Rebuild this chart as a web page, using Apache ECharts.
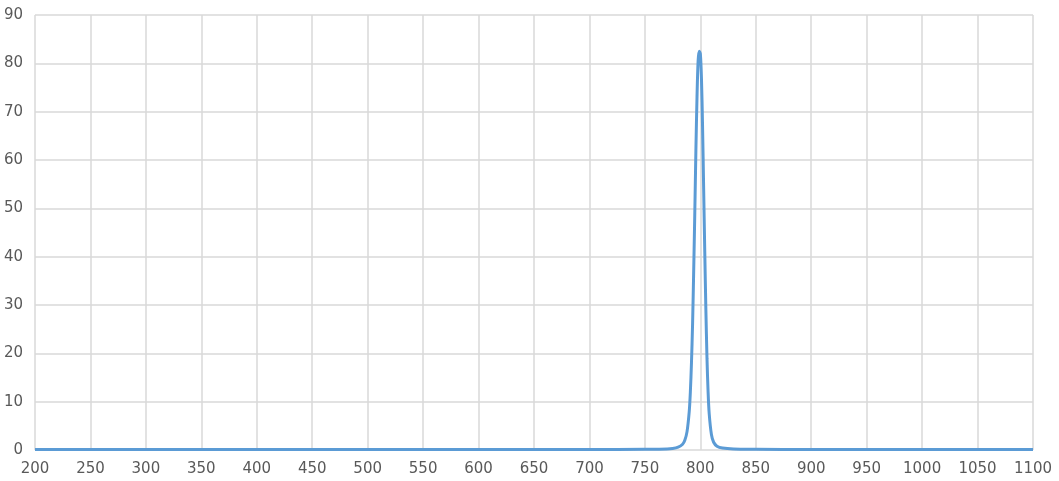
<!DOCTYPE html>
<html>
<head>
<meta charset="utf-8">
<script src="https://cdn.jsdelivr.net/npm/echarts@6/dist/echarts.min.js"></script>
<style>
html, body { margin: 0; padding: 0; background: #fff; }
#main { width: 1059px; height: 481px; }
</style>
</head>
<body>
<div id="main"></div>
<script>
// wavelength (nm) and transmission (%)
var wavelengths = [200, 300, 400, 500, 600, 700, 750, 770, 775, 780, 784, 786, 788, 790, 791, 792, 793, 794, 795, 796, 797, 798, 799, 800, 801, 802, 803, 804, 805, 806, 807, 808, 810, 812, 815, 820, 830, 850, 900, 1000, 1100];
var transmission = [0.1, 0.1, 0.1, 0.1, 0.1, 0.1, 0.15, 0.2, 0.3, 0.6, 1.2, 2, 3.8, 8, 12, 18, 26, 37, 49, 62, 73, 80.5, 82.5, 82, 77, 67, 54, 41, 29, 19, 12, 7.5, 3.2, 1.6, 0.8, 0.4, 0.2, 0.15, 0.1, 0.1, 0.1];

var points = [];
for (var i = 0; i < wavelengths.length; i++) {
	points.push([wavelengths[i], transmission[i]]);
}

var myChart = echarts.init(document.getElementById('main'));

var option = {
	animation : false,
	grid : {
		left : 35,
		right : 26,
		top : 15,
		bottom : 31
	},
	xAxis : {
		type : 'value',
		min : 200,
		max : 1100,
		interval : 50,
		axisLine : { show : false },
		axisTick : { show : false },
		axisLabel : {
			color : '#595959',
			fontSize : 15,
			fontFamily : 'DejaVu Sans',
			margin : 12,
			formatter : function (v) { return String(v); }
		},
		splitLine : {
			show : true,
			lineStyle : { color : '#d9d9d9', width : 1.5 }
		}
	},
	yAxis : {
		type : 'value',
		min : 0,
		max : 90,
		interval : 10,
		axisLine : { show : false },
		axisTick : { show : false },
		axisLabel : {
			color : '#595959',
			fontSize : 15,
			fontFamily : 'DejaVu Sans',
			margin : 12
		},
		splitLine : {
			show : true,
			lineStyle : { color : '#d9d9d9', width : 1.5 }
		}
	},
	series : [ {
		type : 'line',
		data : points,
		smooth : 0.3,
		showSymbol : false,
		lineStyle : { color : '#5b9bd5', width : 3 }
	} ]
};

myChart.setOption(option);
</script>
</body>
</html>
